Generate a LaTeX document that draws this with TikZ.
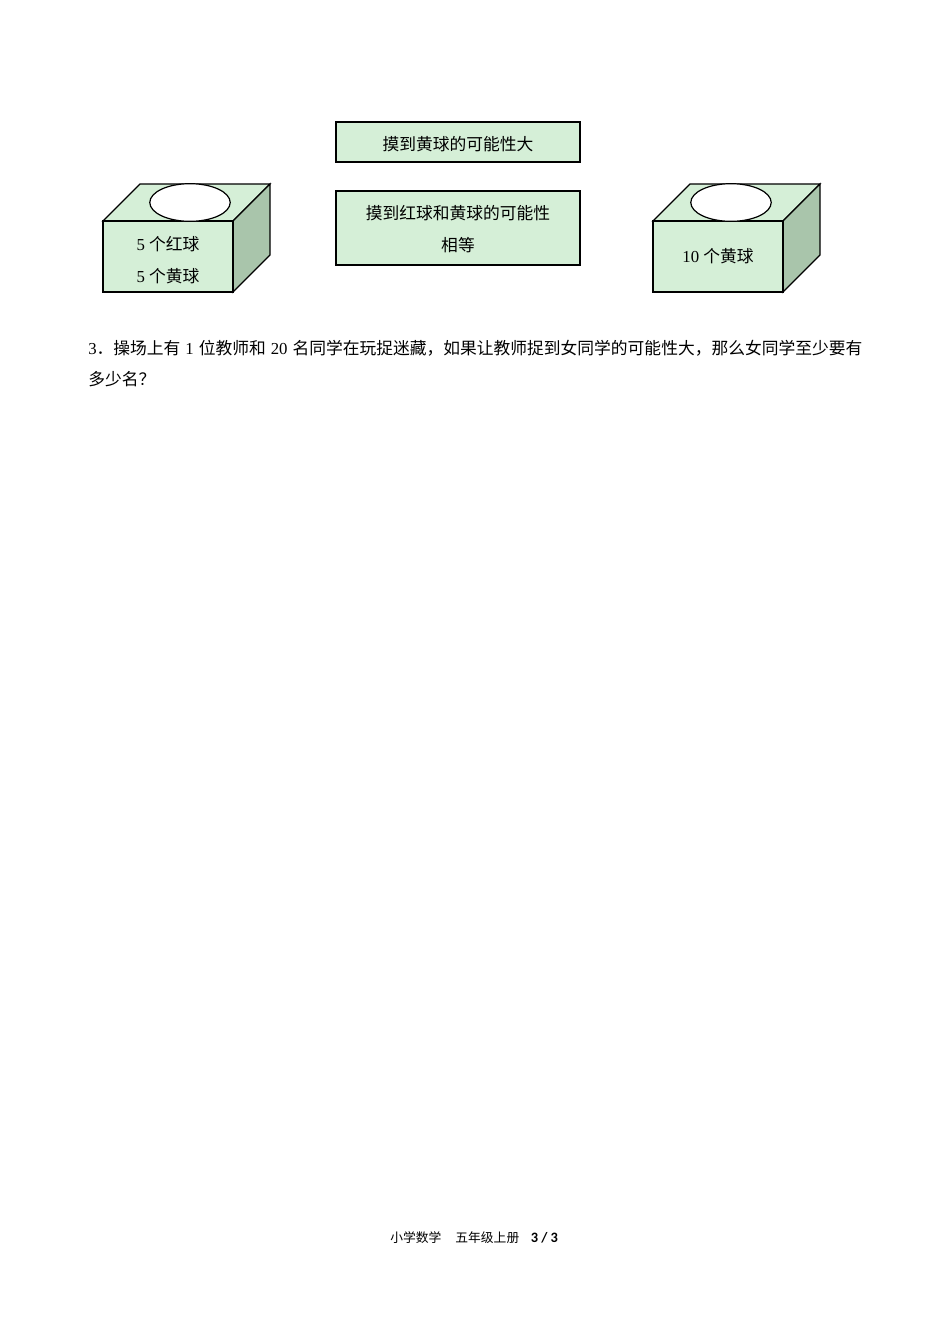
\documentclass[tikz,border=0pt]{standalone}
\usepackage{fontspec}
\setmainfont{Liberation Serif}
\newfontfamily\cjk{Noto Sans CJK SC}
\newfontfamily\calb{Carlito}
\XeTeXlinebreaklocale "zh"
\XeTeXlinebreakskip=0pt plus 2pt
\newcommand\zhs[1]{{\cjk #1}}
\definecolor{facegreen}{HTML}{D5EFD7}
\definecolor{sidegreen}{HTML}{A9C5AB}
\tikzset{
  face/.style={draw=black, line width=0.75pt, fill=facegreen, line join=miter},
  side/.style={draw=black, line width=0.75pt, fill=sidegreen, line join=miter},
  hole/.style={draw=black, line width=0.75pt, fill=white},
  answerbox/.style={draw=black, line width=0.75pt, fill=facegreen},
  label/.style={font=\fontsize{10.5pt}{20pt}\selectfont, inner sep=0pt, align=center},
  body/.style={font=\fontsize{10.5pt}{19.5pt}\selectfont, inner sep=0pt, anchor=base west},
}
\begin{document}
\begin{tikzpicture}[x=0.6266pt, y=-0.6266pt]
\fill[white] (0,0) rectangle (950,1344);
\useasboundingbox (0,0) rectangle (950,1344);

% answer boxes
\draw[answerbox] (336,122) rectangle (580,162);
\node[label] (ansA) at (458,144) {\zhs{摸到黄球的可能性大}};
\draw[answerbox] (336,191) rectangle (580,265);
\node[label] (ansB) at (458,229) {\zhs{摸到红球和黄球的可能性}\\\zhs{相等}};

% left cube
\draw[face] (103,221) -- (140,184) -- (270,184) -- (233,221) -- cycle;
\draw[side] (233,221) -- (270,184) -- (270,255) -- (233,292) -- cycle;
\draw[face] (103,221) rectangle (233,292);
\draw[hole] (190,202.5) ellipse [x radius=25.2pt, y radius=11.8pt];
\node[label] (cubeA) at (168,260) {5 \zhs{个红球}\\5 \zhs{个黄球}};

% right cube
\draw[face] (653,221) -- (690,184) -- (820,184) -- (783,221) -- cycle;
\draw[side] (783,221) -- (820,184) -- (820,255) -- (783,292) -- cycle;
\draw[face] (653,221) rectangle (783,292);
\draw[hole] (731,202.5) ellipse [x radius=25.2pt, y radius=11.8pt];
\node[label] (cubeB) at (718,256.5) {10 \zhs{个黄球}};

% question text
\node[body] (q1) at (88,354) {\makebox[485pt][s]{3\zhs{．操场上有} 1 \zhs{位教师和} 20 \zhs{名同学在玩捉迷藏，如果让教师捉到女同学的可能性大，那么女同学至少要有}}};
\node[body] (q2) at (88,385) {\zhs{多少名？}};

% footer
\node[inner sep=0pt, anchor=base west] (foot) at (390,1242) {\fontsize{8pt}{10pt}\selectfont\zhs{小学数学\hspace{1.1em}五年级上册}\hspace{0.9em}{\calb\bfseries\fontsize{9pt}{10pt}\selectfont 3 / 3}};
\end{tikzpicture}
\end{document}
